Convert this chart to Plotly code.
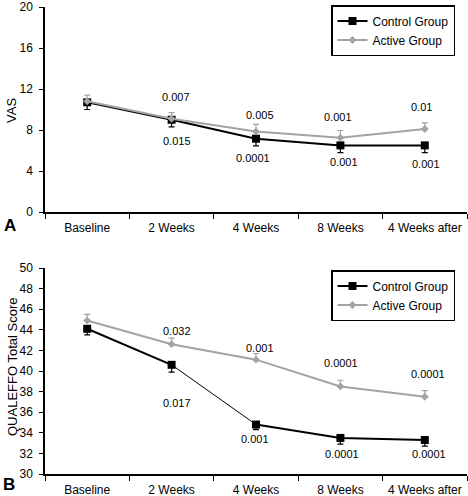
import plotly.graph_objects as go

W, H = 468, 496

categories = ["Baseline", "2 Weeks", "4 Weeks", "8 Weeks", "4 Weeks after"]

# Panel A: VAS
vas_control = [10.7, 9.0, 7.15, 6.5, 6.5]
vas_control_err = [0.7, 0.7, 0.7, 0.7, 0.7]
vas_active = [10.8, 9.1, 7.85, 7.25, 8.1]
vas_active_err = [0.6, 0.6, 0.7, 0.7, 0.6]
vas_p_active = ["", "0.007", "0.005", "0.001", "0.01"]
vas_p_control = ["", "0.015", "0.0001", "0.001", "0.001"]

# Panel B: QUALEFFO
q_control = [44.1, 40.6, 34.8, 33.5, 33.3]
q_control_err = [0.6, 0.7, 0.5, 0.6, 0.6]
q_active = [44.9, 42.6, 41.1, 38.5, 37.5]
q_active_err = [0.6, 0.6, 0.6, 0.6, 0.6]
q_p_active = ["", "0.032", "0.001", "0.0001", "0.0001"]
q_p_control = ["", "0.017", "0.001", "0.0001", "0.0001"]

FONT = "Liberation Sans, Arial, sans-serif"
BLACK = "#000000"
GRAY = "#a3a3a3"

fig = go.Figure()


def add_panel(ctrl, ctrl_err, act, act_err, xa, ya, legend, thin_seg=None):
    zeros = [0] * len(ctrl)
    if thin_seg is None:
        fig.add_trace(go.Scatter(
            x=categories, y=ctrl, mode="lines+markers", name="Control Group",
            line=dict(color=BLACK, width=2), marker=dict(symbol="square", size=8, color=BLACK),
            error_y=dict(type="data", symmetric=False, array=zeros, arrayminus=ctrl_err,
                         color=BLACK, thickness=1.2, width=3),
            xaxis=xa, yaxis=ya, legend=legend))
    else:
        i = thin_seg
        fig.add_trace(go.Scatter(
            x=categories[: i + 1], y=ctrl[: i + 1], mode="lines+markers", name="Control Group",
            line=dict(color=BLACK, width=2), marker=dict(symbol="square", size=8, color=BLACK),
            error_y=dict(type="data", symmetric=False, array=zeros[: i + 1], arrayminus=ctrl_err[: i + 1],
                         color=BLACK, thickness=1.2, width=3),
            xaxis=xa, yaxis=ya, legend=legend, legendgroup="c" + legend))
        fig.add_trace(go.Scatter(
            x=categories[i:i + 2], y=ctrl[i:i + 2], mode="lines", showlegend=False,
            line=dict(color=BLACK, width=1), xaxis=xa, yaxis=ya))
        fig.add_trace(go.Scatter(
            x=categories[i + 1:], y=ctrl[i + 1:], mode="lines+markers", showlegend=False,
            line=dict(color=BLACK, width=2), marker=dict(symbol="square", size=8, color=BLACK),
            error_y=dict(type="data", symmetric=False, array=zeros[i + 1:], arrayminus=ctrl_err[i + 1:],
                         color=BLACK, thickness=1.2, width=3),
            xaxis=xa, yaxis=ya, legendgroup="c" + legend))
    fig.add_trace(go.Scatter(
        x=categories, y=act, mode="lines+markers", name="Active Group",
        line=dict(color=GRAY, width=2), marker=dict(symbol="diamond", size=6, color=GRAY),
        error_y=dict(type="data", symmetric=False, array=act_err, arrayminus=zeros,
                     color=GRAY, thickness=1.2, width=3),
        xaxis=xa, yaxis=ya, legend=legend))


add_panel(vas_control, vas_control_err, vas_active, vas_active_err, "x", "y", "legend")
add_panel(q_control, q_control_err, q_active, q_active_err, "x2", "y2", "legend2", thin_seg=1)

ann = []
vas_up = [0, 22, 17, 21, 22]
vas_dn = [0, -21, -19, -17, -19]
vas_xs_up = [0, 4, 4, -2, -3]
vas_xs_dn = [0, 5, -3, 4, 1]
for k in range(len(categories)):
    if vas_p_active[k]:
        ann.append(dict(x=categories[k], y=vas_active[k], xref="x", yref="y", text=vas_p_active[k],
                        showarrow=False, yshift=vas_up[k], xshift=vas_xs_up[k]))
    if vas_p_control[k]:
        ann.append(dict(x=categories[k], y=vas_control[k], xref="x", yref="y", text=vas_p_control[k],
                        showarrow=False, yshift=vas_dn[k], xshift=vas_xs_dn[k]))
q_up = [0, 13, 12, 23, 23]
q_dn = [0, -38, -14, -16, -14]
q_xs_up = [0, 5, 4, 1, 3]
q_xs_dn = [0, 5, -1, 2, 4]
for k in range(len(categories)):
    if q_p_active[k]:
        ann.append(dict(x=categories[k], y=q_active[k], xref="x2", yref="y2", text=q_p_active[k],
                        showarrow=False, yshift=q_up[k], xshift=q_xs_up[k]))
    if q_p_control[k]:
        ann.append(dict(x=categories[k], y=q_control[k], xref="x2", yref="y2", text=q_p_control[k],
                        showarrow=False, yshift=q_dn[k], xshift=q_xs_dn[k]))
for a in ann:
    a["font"] = dict(size=11, color=BLACK, family=FONT)

lbl = dict(xref="paper", showarrow=False, xanchor="center", yanchor="middle")
ann += [
    dict(**lbl, yref="paper", x=12 / W, y=1 - 111 / H, text="VAS", textangle=-90,
         font=dict(size=13, color=BLACK, family=FONT)),
    dict(**lbl, yref="paper", x=12 / W, y=1 - 367 / H, text="QUALEFFO Total Score", textangle=-90,
         font=dict(size=13, color=BLACK, family=FONT)),
    dict(**lbl, yref="y domain", x=9.5 / W, y=-13 / 205, text="<b>A</b>",
         font=dict(size=17, color=BLACK, family=FONT)),
    dict(**lbl, yref="y2 domain", x=9 / W, y=-10 / 206, text="<b>B</b>",
         font=dict(size=17, color=BLACK, family=FONT)),
]

xdom = [45 / W, 467 / W]
xcommon = dict(type="category", categoryorder="array", categoryarray=categories, range=[-0.5, 4.5],
               tickson="boundaries", ticks="outside", ticklen=5, tickwidth=1.2, tickcolor=BLACK,
               showline=True, linecolor=BLACK, linewidth=1.5, showgrid=False, zeroline=False,
               ticklabelstandoff=4,
               tickfont=dict(size=12, color=BLACK, family=FONT), domain=xdom, fixedrange=True)
ycommon = dict(ticks="outside", ticklen=4, tickwidth=1.2, tickcolor=BLACK, showline=True,
               linecolor=BLACK, linewidth=1.5, showgrid=False, zeroline=False,
               ticklabelstandoff=4,
               tickfont=dict(size=12, color=BLACK, family=FONT), fixedrange=True)

legcommon = dict(x=331 / W, xanchor="left", yanchor="top", bordercolor=BLACK, borderwidth=1.5,
                 bgcolor="white", font=dict(size=12, color=BLACK, family=FONT),
                 tracegroupgap=0, itemwidth=30)

fig.update_layout(
    width=W, height=H, margin=dict(l=0, r=0, t=0, b=0, autoexpand=False),
    paper_bgcolor="white", plot_bgcolor="white",
    font=dict(family=FONT, color=BLACK),
    xaxis=dict(**xcommon, anchor="y"),
    yaxis=dict(**ycommon, range=[0, 20], dtick=4, domain=[1 - 212 / H, 1 - 7 / H], anchor="x"),
    xaxis2=dict(**xcommon, anchor="y2"),
    yaxis2=dict(**ycommon, range=[30, 50], dtick=2, domain=[1 - 474 / H, 1 - 268 / H], anchor="x2"),
    legend=dict(**legcommon, y=1 - 5 / H),
    legend2=dict(**legcommon, y=1 - 270 / H),
    annotations=ann,
    showlegend=True,
)

page_fix = ("document.body.style.margin='0';document.body.style.padding='0';"
            "document.documentElement.style.overflow='hidden';document.body.style.overflow='hidden';")

fig.write_html("out.html", post_script=page_fix, config={"displayModeBar": False})
